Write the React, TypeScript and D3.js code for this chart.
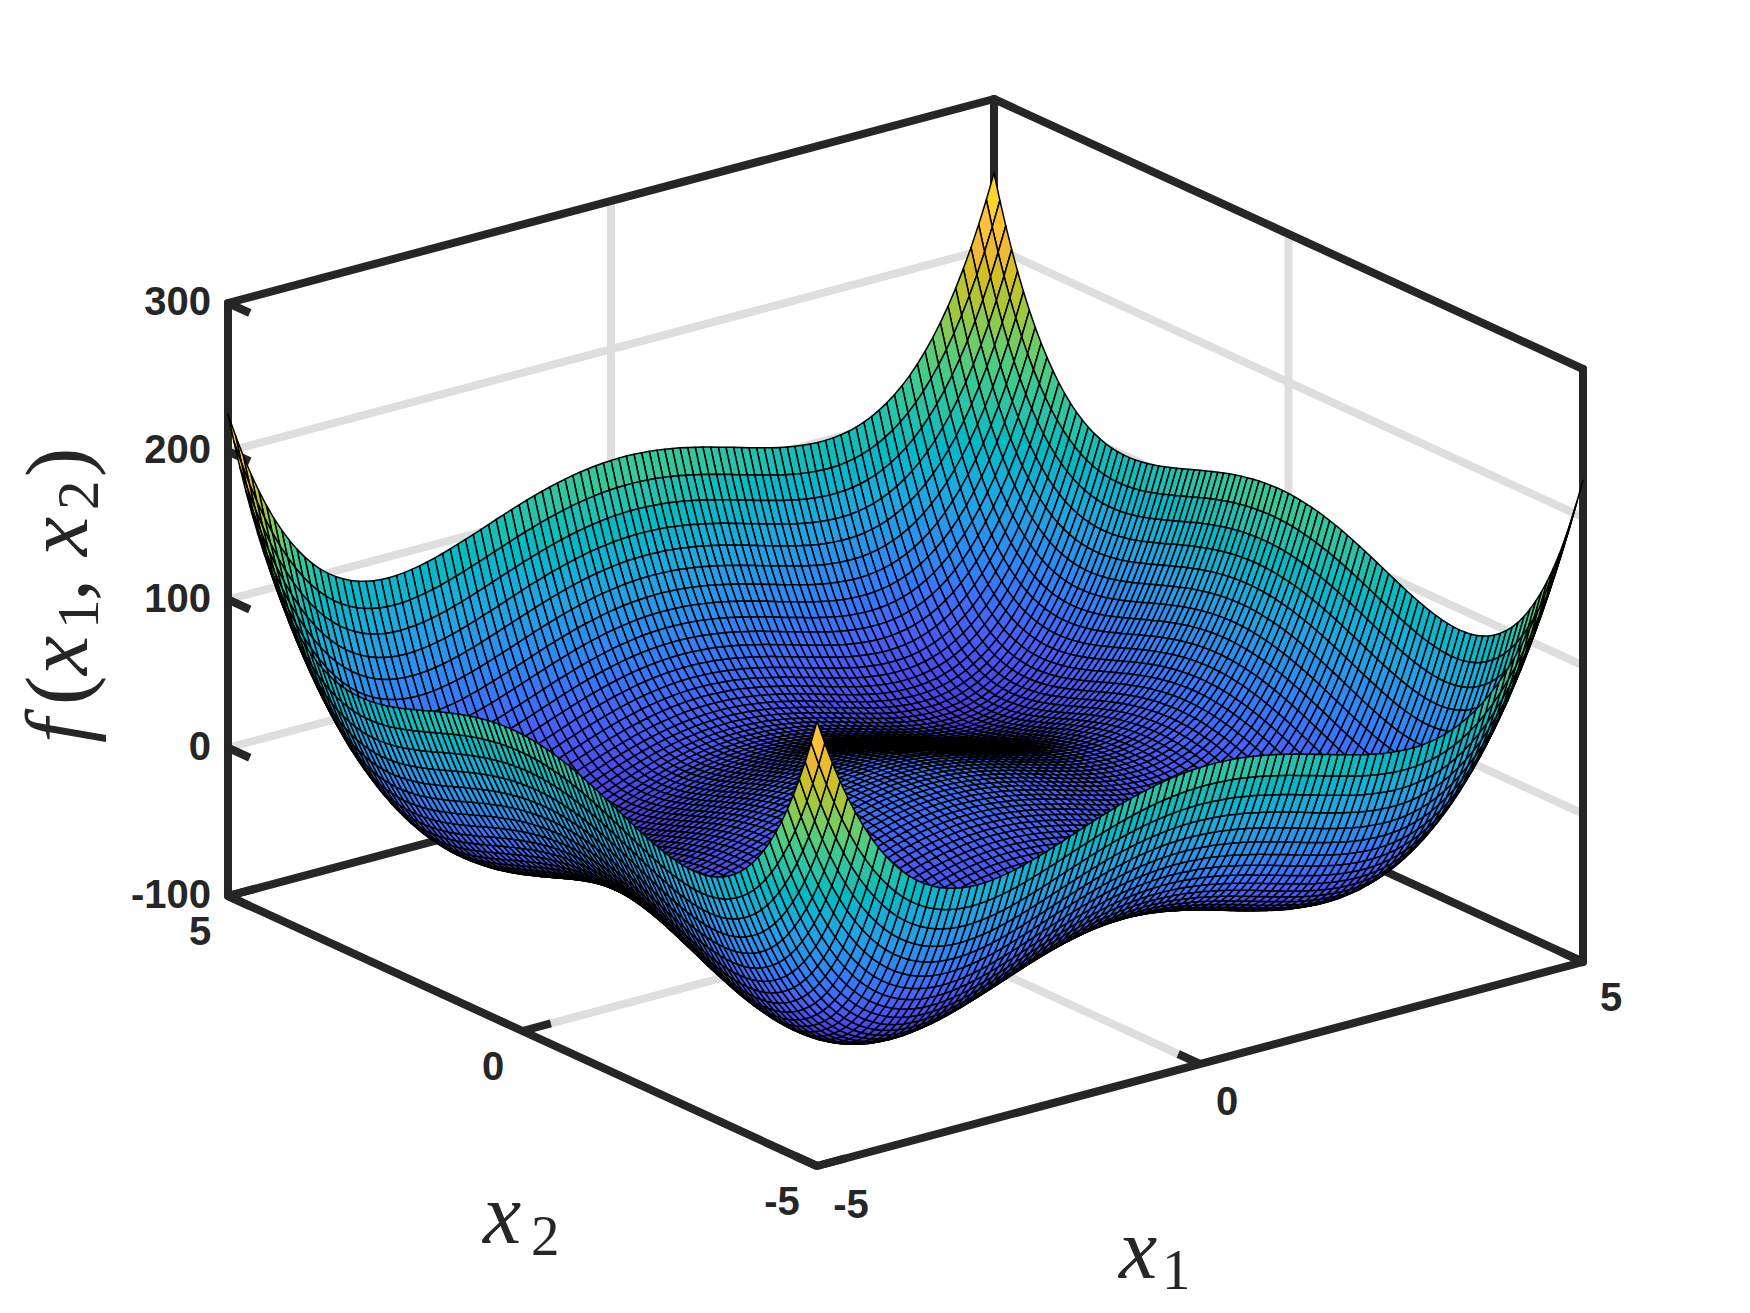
import * as d3 from 'd3';
import React, { useMemo } from 'react';

const WIDTH = 1750;
const HEIGHT = 1313;
const INK = '#262626';
const GRID = '#dedede';

const x1Ticks = [-5, 0, 5];
const x2Ticks = [-5, 0, 5];
const zTicks = [-100, 0, 100, 200, 300];

// Height contributed by one coordinate, read along the surface edges at each 0.1 mesh step
// from -5 to 5. The two coordinates add up, so the mesh is this list against itself.
const edgeProfile = [
  100, 83.9, 69.1, 55.5, 43.1, 31.8, 21.5, 12.3, 4, -3.4, -10, -15.8, -20.8, -25.1, -28.7, -31.7,
  -34.2, -36.1, -37.5, -38.5, -39, -39.2, -39, -38.5, -37.7, -36.7, -35.5, -34.1, -32.5, -30.8, -29,
  -27.1, -25.2, -23.2, -21.2, -19.2, -17.3, -15.3, -13.5, -11.7, -10, -8.4, -6.9, -5.6, -4.3, -3.2,
  -2.3, -1.5, -0.8, -0.3, 0, 0.2, 0.2, 0, -0.3, -0.7, -1.3, -2.1, -2.9, -3.9, -5, -6.2, -7.5, -8.8,
  -10.3, -11.7, -13.2, -14.7, -16.2, -17.6, -19, -20.3, -21.5, -22.6, -23.5, -24.2, -24.7, -25, -25,
  -24.7, -24, -23, -21.5, -19.6, -17.2, -14.2, -10.7, -6.6, -1.8, 3.7, 10, 17.1, 25, 33.8, 43.5, 54.3,
  66.1, 79, 93.1, 108.4, 125,
];

// parula, every third entry of the 64 step table
const parulaStops = [
  '#3e26a8', '#4432cb', '#4741e5', '#4852f4', '#4563fd', '#3875fe', '#2e87f7', '#2796eb', '#20a5e3',
  '#12b1d6', '#02bac3', '#24c1ae', '#37c897', '#57cc7a', '#81cc59', '#abc739', '#d1bf27', '#f0ba36',
  '#fec338', '#fad52c', '#f5e924', '#f9fb15',
];
const colorRange = [-78.3, 250];

const meshIndex = d3.scaleLinear([0, edgeProfile.length - 1], [-5, 5]);

const x1ToX = d3.scaleLinear([-5, 5], [0, 766]);
const x1ToY = d3.scaleLinear([-5, 5], [0, -204]);
const x2ToX = d3.scaleLinear([-5, 5], [0, -589]);
const x2ToY = d3.scaleLinear([-5, 5], [0, -270]);
const zToY = d3.scaleLinear([-100, 300], [0, -593]);
const origin: [number, number] = [817, 1166];

type P3 = [number, number, number];

const project = ([a, b, z]: P3): [number, number] => [
  origin[0] + x1ToX(a) + x2ToX(b),
  origin[1] + x1ToY(a) + x2ToY(b) + zToY(z),
];

const line3 = (pts: P3[]) => d3.line()(pts.map(project)) as string;

const parula = d3.piecewise(d3.interpolateRgb, parulaStops);
const colorOf = d3.scaleLinear(colorRange, [0, 1]).clamp(true);

const TICK = 0.37;
const FLOOR = -100;
const TOP = 300;

const labelStyle: React.CSSProperties = {
  fontFamily: '"Liberation Sans", Arial, sans-serif',
  fontWeight: 700,
  fontSize: 40,
  fill: INK,
};
const mathStyle: React.CSSProperties = {
  fontFamily: '"Liberation Serif", serif',
  fill: INK,
};

function Surface() {
  const cells = useMemo(() => {
    const out: { d: string; fill: string }[] = [];
    const n = edgeProfile.length;
    // back corner (5,5) first, so nearer cells paint over it
    for (let i = n - 2; i >= 0; i--) {
      for (let j = n - 2; j >= 0; j--) {
        const corner = (a: number, b: number): P3 => [
          meshIndex(a),
          meshIndex(b),
          edgeProfile[a] + edgeProfile[b],
        ];
        out.push({
          d: line3([corner(i, j), corner(i + 1, j), corner(i + 1, j + 1), corner(i, j + 1)]) + 'Z',
          fill: parula(colorOf(edgeProfile[i] + edgeProfile[j])),
        });
      }
    }
    return out;
  }, []);

  return (
    <g stroke="#000" strokeWidth={1.5} strokeLinejoin="round">
      {cells.map((c, k) => (
        <path key={k} d={c.d} fill={c.fill} />
      ))}
    </g>
  );
}

export default function App() {
  const gridPaths = [
    ...x1Ticks.map((t) => line3([[t, -5, FLOOR], [t, 5, FLOOR], [t, 5, TOP]])),
    ...x2Ticks.map((t) => line3([[-5, t, FLOOR], [5, t, FLOOR], [5, t, TOP]])),
    ...zTicks.map((t) => line3([[-5, 5, t], [5, 5, t], [5, -5, t]])),
  ];
  const boxPaths = [
    line3([[-5, 5, TOP], [-5, 5, FLOOR], [-5, -5, FLOOR], [5, -5, FLOOR], [5, -5, TOP]]),
    line3([[-5, 5, TOP], [5, 5, TOP], [5, -5, TOP]]),
    line3([[-5, 5, FLOOR], [5, 5, FLOOR], [5, -5, FLOOR]]),
    line3([[5, 5, FLOOR], [5, 5, TOP]]),
  ];
  const tickPaths = [
    ...x1Ticks.map((t) => line3([[t, -5, FLOOR], [t, -5 + TICK, FLOOR]])),
    ...x2Ticks.map((t) => line3([[-5, t, FLOOR], [-5 + TICK, t, FLOOR]])),
    ...zTicks.map((t) => line3([[-5, 5, t], [-5, 5 - TICK, t]])),
  ];

  const zLabelX = 211;
  return (
    <svg
      width={WIDTH}
      height={HEIGHT}
      viewBox={`0 0 ${WIDTH} ${HEIGHT}`}
      style={{ position: 'absolute', left: 0, top: 0, background: '#fff' }}
    >
      <g fill="none" stroke={GRID} strokeWidth={8}>
        {gridPaths.map((d, i) => (
          <path key={i} d={d} />
        ))}
      </g>
      <g fill="none" stroke={INK} strokeWidth={8} strokeLinejoin="round" strokeLinecap="round">
        {boxPaths.map((d, i) => (
          <path key={i} d={d} />
        ))}
      </g>
      <g fill="none" stroke={INK} strokeWidth={8}>
        {tickPaths.map((d, i) => (
          <path key={i} d={d} />
        ))}
      </g>

      <Surface />

      <g style={labelStyle} textAnchor="end">
        {zTicks.map((t) => (
          <text key={t} x={zLabelX} y={origin[1] + x2ToY(5) + zToY(t) + 12}>
            {t}
          </text>
        ))}
      </g>
      <g style={labelStyle} textAnchor="middle">
        <text x={200} y={945}>{x2Ticks[2]}</text>
        <text x={493} y={1080}>{x2Ticks[1]}</text>
        <text x={782} y={1215}>{x2Ticks[0]}</text>
        <text x={851} y={1218}>{x1Ticks[0]}</text>
        <text x={1227} y={1115}>{x1Ticks[1]}</text>
        <text x={1611} y={1011}>{x1Ticks[2]}</text>
      </g>

      <text style={mathStyle} fontSize={86}>
        <tspan x={483} y={1243} fontStyle="italic">x</tspan>
        <tspan x={531} y={1255} fontSize={57}>2</tspan>
      </text>
      <text style={mathStyle} fontSize={86}>
        <tspan x={1119} y={1278} fontStyle="italic">x</tspan>
        <tspan x={1162} y={1289} fontSize={57}>1</tspan>
      </text>

      <text transform="translate(87,755) rotate(-90)" style={mathStyle} fontSize={88}>
        <tspan x={12} y={0} fontStyle="italic">f</tspan>
        <tspan x={50} y={0}>(</tspan>
        <tspan x={80} y={0} fontStyle="italic">x</tspan>
        <tspan x={126} y={11} fontSize={59}>1</tspan>
        <tspan x={154} y={0}>,</tspan>
        <tspan x={199} y={0} fontStyle="italic">x</tspan>
        <tspan x={245} y={11} fontSize={59}>2</tspan>
        <tspan x={278} y={0}>)</tspan>
      </text>
    </svg>
  );
}
